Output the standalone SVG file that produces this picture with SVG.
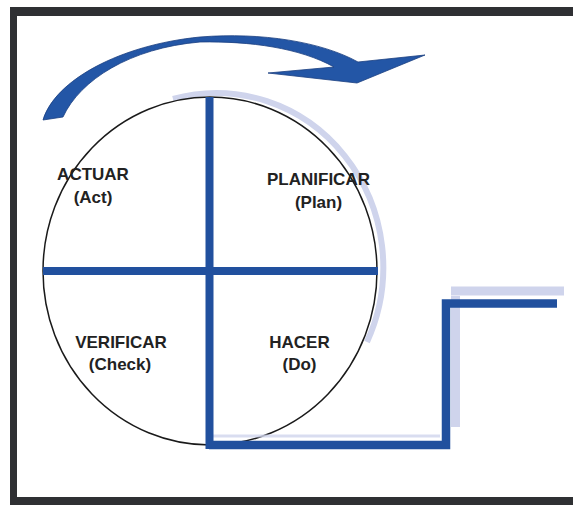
<svg xmlns="http://www.w3.org/2000/svg" width="573" height="505" viewBox="0 0 573 505">
  <style>
    .frame { fill: #2f3033; }
    .bar { fill: none; stroke: #21509e; stroke-linejoin: miter; stroke-linecap: butt; }
    .halo { fill: none; stroke: #cfd4ec; stroke-linecap: butt; }
    .label { font-family: "Liberation Sans", Arial, sans-serif; font-weight: bold; font-size: 17px; fill: #222; text-anchor: middle; }
  </style>

  <!-- page background and dark frame -->
  <rect x="0" y="0" width="573" height="505" fill="#ffffff"/>
  <rect class="frame" x="10" y="7" width="563" height="9"/>
  <rect class="frame" x="10" y="7" width="7" height="498"/>
  <rect class="frame" x="10" y="497" width="563" height="8"/>

  <!-- cycle arrow -->
  <g id="cycle-arrow">
    <path d="M 43,120 C 55,80 120,45 200,37 C 262,32 322,42 358,62 L 425,55 L 357,83 L 268,73 L 334,67 C 300,48 250,41 200,42 C 130,48 80,80 63,117 Z"
          fill="#2356a6" stroke="#1a3f80" stroke-width="0.8"/>
  </g>

  <!-- PDCA wheel -->
  <g id="wheel">
    <path class="halo" d="M 173,99 A 167 174 0 0 1 367,342" stroke-width="6"/>
    <ellipse cx="210" cy="271" rx="167" ry="174" fill="#ffffff" stroke="#1a1a1a" stroke-width="1.5"/>
  </g>

  <!-- staircase (light shadow then solid bar) -->
  <g id="connectors">
    <path class="halo" d="M 451,291 L 564,291 M 455.5,296 L 455.5,427" stroke-width="9"/>
    <path class="halo" d="M 213,436 L 440,436" stroke-width="3" opacity="0.8"/>
    <path class="bar" d="M 209.5,97 L 209.5,449" stroke-width="8"/>
    <path class="bar" d="M 43,271 L 378,271" stroke-width="8"/>
    <path class="bar" d="M 209,445 L 446,445 L 446,303.5 L 557,303.5" stroke-width="8.5"/>
  </g>

  <g id="act">
    <text class="label" x="93" y="180">ACTUAR</text>
    <text class="label" x="93" y="203">(Act)</text>
  </g>
  <g id="plan">
    <text class="label" x="318.5" y="185">PLANIFICAR</text>
    <text class="label" x="318.5" y="208">(Plan)</text>
  </g>
  <g id="check">
    <text class="label" x="121" y="348">VERIFICAR</text>
    <text class="label" x="120" y="370">(Check)</text>
  </g>
  <g id="do">
    <text class="label" x="299.5" y="348">HACER</text>
    <text class="label" x="299.5" y="370">(Do)</text>
  </g>
</svg>
